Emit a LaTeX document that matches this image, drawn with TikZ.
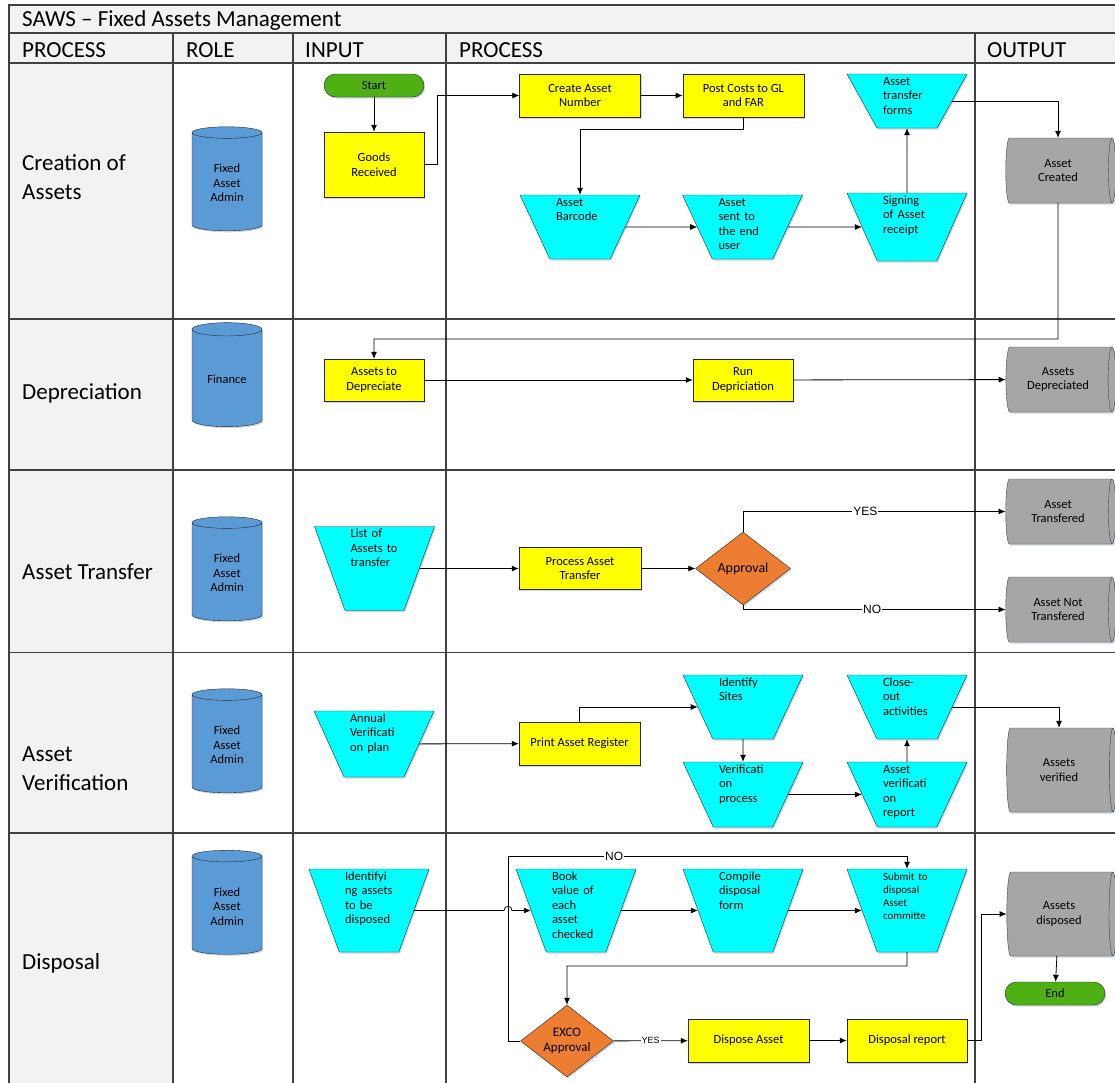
\documentclass[tikz,border=0pt]{standalone}
\usepackage{fontspec}
\setmainfont{Carlito}
\newfontfamily\yesnofont{Liberation Sans}
\usepackage{tikz}
\usetikzlibrary{arrows.meta,positioning,shapes.geometric,shadows}
\definecolor{sawsyellow}{RGB}{255,255,0}
\definecolor{sawscyan}{RGB}{0,255,255}
\definecolor{sawsgreen}{RGB}{78,176,18}
\definecolor{sawsorange}{RGB}{237,125,49}
\definecolor{sawsgrey}{RGB}{166,166,166}
\definecolor{sawsblue}{RGB}{91,155,213}
\definecolor{lanegrey}{RGB}{242,242,242}
\definecolor{linegrey}{RGB}{64,64,64}
\definecolor{edgegrey}{RGB}{40,40,40}
\newcommand{\sawsfont}{\fontsize{12.5}{14.5}\selectfont\hyphenpenalty=10000}
\newcommand{\lanefont}{\fontsize{23}{28.5}\selectfont}

\begin{document}
\begin{tikzpicture}[
    x=1pt, y=-1pt,
    >={Latex[length=7pt,width=6pt]},
    lane/.style={draw=linegrey, line width=1.2pt},
    shade/.style={drop shadow={shadow xshift=1.2pt, shadow yshift=-1.5pt, opacity=0.25, fill=sawsblue!60!black}},
    procbox/.style={
        rectangle,
        draw=edgegrey,
        fill=sawsyellow,
        minimum width=121pt,
        minimum height=43pt,
        align=center,
        inner sep=2pt,
        font=\sawsfont,
        shade
    },
    iobox/.style={
        trapezium,
        shape border rotate=180,
        trapezium stretches body,
        trapezium angle=65,
        minimum width=120pt,
        draw=edgegrey,
        fill=sawscyan,
        text width=48pt,
        align=left,
        text height=9pt,
        text depth=51pt,
        inner sep=2pt,
        font=\sawsfont,
        shade
    },
    terminal/.style={rectangle, rounded corners=11.5pt, draw=edgegrey, fill=sawsgreen,
        minimum width=100pt, minimum height=23pt, inner sep=1pt, font=\sawsfont, shade},
    decision/.style={diamond, aspect=1.3, draw=edgegrey, fill=sawsorange,
        minimum width=95pt, minimum height=73pt, inner sep=0pt, align=center, shade},
    rolecyl/.style={cylinder, shape border rotate=90, aspect=0.29, draw=edgegrey, fill=sawsblue,
        minimum width=70pt, minimum height=104pt, align=center, font=\sawsfont, shade},
    % unrotated cylinder: width and height swap
    outcyl/.style={cylinder, aspect=0.25, draw=linegrey, fill=sawsgrey,
        minimum width=65pt, minimum height=110pt, align=center, font=\sawsfont, shade},
    flow/.style={->, line width=0.8pt},
    yesno/.style={fill=white, inner sep=1pt, font=\yesnofont\fontsize{12}{14}\selectfont},
    lanetitle/.style={anchor=base west, align=left, inner sep=0pt, font=\lanefont}
]
\useasboundingbox (0,0) rectangle (1115,1082);

% lanes and headers
\fill[lanegrey] (9,5) rectangle (1130,63);
\fill[lanegrey] (9,63) rectangle (173,1090);
\draw[lane] (1130,5) -- (9,5) -- (9,1090);
\draw[lane] (9,33) -- (1130,33);
\draw[lane] (9,63) -- (1130,63);
\foreach \y in {319,470,652.5,833}
    \draw[lane] (9,\y) -- (1130,\y);
\foreach \x in {173,293,446,975}
    \draw[lane] (\x,33) -- (\x,1090);

\node[lanetitle] (title) at (22,26) {SAWS -- Fixed Assets Management};
\node[lanetitle] (hprocess) at (22,57) {PROCESS};
\node[lanetitle] (hrole) at (186,57) {ROLE};
\node[lanetitle] (hinput) at (305,57) {INPUT};
\node[lanetitle] (hstep) at (459,57) {PROCESS};
\node[lanetitle] (houtput) at (987,57) {OUTPUT};

% base anchor sits on the last line
\node[lanetitle] (lcreate) at (22,199) {Creation of\\Assets};
\node[lanetitle] (ldeprec) at (22,399) {Depreciation};
\node[lanetitle] (ltransfer) at (22,579) {Asset Transfer};
\node[lanetitle] (lverify) at (22,790) {Asset\\Verification};
\node[lanetitle] (ldisposal) at (22,969) {Disposal};

% roles
\node[rolecyl] (role1) at (227,183) {Fixed\\Asset\\Admin};
\node[rolecyl] (role2) at (227,379.5) {Finance};
\node[rolecyl] (role3) at (227,573) {Fixed\\Asset\\Admin};
\node[rolecyl] (role4) at (227,745) {Fixed\\Asset\\Admin};
\node[rolecyl] (role5) at (227,906.5) {Fixed\\Asset\\Admin};

% creation of assets
\node[terminal] (start) at (374,85.5) {Start};
\node[procbox, minimum width=100pt, minimum height=65pt] (goods) at (374,164.5) {Goods\\Received};
\node[procbox] (create) at (580,95.5) {Create Asset\\Number};
\node[procbox, right=42pt of create] (post) {Post Costs to GL\\and FAR};
\node[iobox, text depth=41pt, trapezium angle=61] (forms) at (907,101) {Asset\\transfer\\forms};
\node[iobox] (barcode) at (580,227) {Asset\\Barcode};
\node[iobox] (enduser) at (742.5,227) {Asset\\sent to\\the end\\user};
\node[iobox, text depth=55pt, trapezium angle=66] (signing) at (907,227) {Signing\\of Asset\\receipt};
\node[outcyl] (created) at (1058,170.5) {Asset\\Created};

\draw[flow] (start) -- (goods);
\draw[flow] (goods) -- (437,164.5) |- (create);
\draw[flow] (create) -- (post);
\draw[flow] (post) -- (post |- 0,129) -| (barcode);
\draw[flow] (barcode) -- (enduser);
\draw[flow] (enduser) -- (signing);
\draw[flow] (signing) -- (forms);
\draw[flow] (forms) -| (created);

% depreciation
\node[procbox, minimum width=100pt, minimum height=42pt] (todeprec) at (374,380) {Assets to\\Depreciate};
\node[procbox, minimum width=100pt, minimum height=42pt] (rundeprec) at (743,380) {Run\\Depriciation};
\node[outcyl] (deprecd) at (1058,379.5) {Assets\\Depreciated};

\draw[flow] (created) -- (created |- 0,339) -| (todeprec);
\draw[flow] (todeprec) -- (rundeprec);
\draw[flow] (rundeprec) -- (deprecd);

% asset transfer
\node[iobox, text depth=71pt, trapezium angle=70] (tolist) at (374.5,568.5) {List of\\Assets to\\transfer};
\node[procbox, minimum width=122pt, minimum height=42pt] (dotransfer) at (580,568.5) {Process Asset\\Transfer};
\node[decision, font=\fontsize{14}{16}\selectfont] (approval) at (743,568.5) {Approval};
\node[outcyl] (transfered) at (1058,511.5) {Asset\\Transfered};
\node[outcyl] (nottransfered) at (1058,609.5) {Asset Not\\Transfered};

\draw[flow] (tolist) -- (dotransfer);
\draw[flow] (dotransfer) -- (approval);
\draw[flow] (approval) |- node[pos=0.733, yesno] {YES} (transfered);
\draw[flow] (approval) |- node[pos=0.746, yesno] {NO} (nottransfered);

% asset verification
\node[iobox, text depth=53pt, trapezium angle=65.5] (annual) at (374,744) {Annual\\Verificati\\on plan};
\node[procbox] (register) at (579.5,743.5) {Print Asset Register};
\node[iobox] (sites) at (743,707) {Identify\\Sites};
\node[iobox, text depth=52pt] (verifyproc) at (743,794.5) {Verificati\\on\\process};
\node[iobox, text depth=52pt] (report) at (907,794.5) {Asset\\verificati\\on\\report};
\node[iobox] (closeout) at (907,707) {Close-\\out\\activities};
\node[outcyl, minimum width=84pt] (verified) at (1059,770) {Assets\\verified};

\draw[flow] (annual) -- (register);
\draw[flow] (register) |- (sites);
\draw[flow] (sites) -- (verifyproc);
\draw[flow] (verifyproc) -- (report);
\draw[flow] (report) -- (closeout);
\draw[flow] (closeout) -| (verified);

% disposal
\node[iobox, text depth=70pt, trapezium angle=70] (identify) at (369,910.5) {Identifyi\\ng assets\\to be\\disposed};
\node[iobox, text depth=70pt, trapezium angle=70] (bookvalue) at (576,910.5) {Book\\value of\\each\\asset\\checked};
\node[iobox, text depth=70pt, trapezium angle=70] (compile) at (743,910.5) {Compile\\disposal\\form};
\node[iobox, text depth=70pt, trapezium angle=70, font=\fontsize{11}{13}\selectfont] (submit) at (907,910.5) {Submit to\\disposal\\Asset\\committe};
\node[decision, font=\fontsize{13}{14.5}\selectfont, minimum width=93pt, minimum height=72pt] (exco) at (567,1041) {EXCO\\Approval};
\node[procbox] (dispose) at (748.5,1040.5) {Dispose Asset};
\node[procbox, minimum width=120pt] (dreport) at (907,1040.5) {Disposal report};
\node[outcyl, minimum width=84pt] (disposed) at (1059,914) {Assets\\disposed};
\node[terminal] (end) at (1055,993.5) {End};

\draw[flow] (identify) -- (504,910.5) .. controls (504,905) and (512,905) .. (512,910.5) -- (bookvalue);
\draw[flow] (bookvalue) -- (compile);
\draw[flow] (compile) -- (submit);
\draw[flow] (submit) -- (submit |- 0,966) -| (exco);
\draw[flow] (exco) -- (508,1041) -- (508,856) -| node[pos=0.133, yesno] {NO} (submit);
\draw[flow] (exco) -- node[yesno, font=\yesnofont\fontsize{9}{11}\selectfont] {YES} (dispose);
\draw[flow] (dispose) -- (dreport);
\draw[flow] (dreport) -- (981,1040.5) |- (disposed);
\draw[flow] (disposed) -- (end);
\end{tikzpicture}
\end{document}
